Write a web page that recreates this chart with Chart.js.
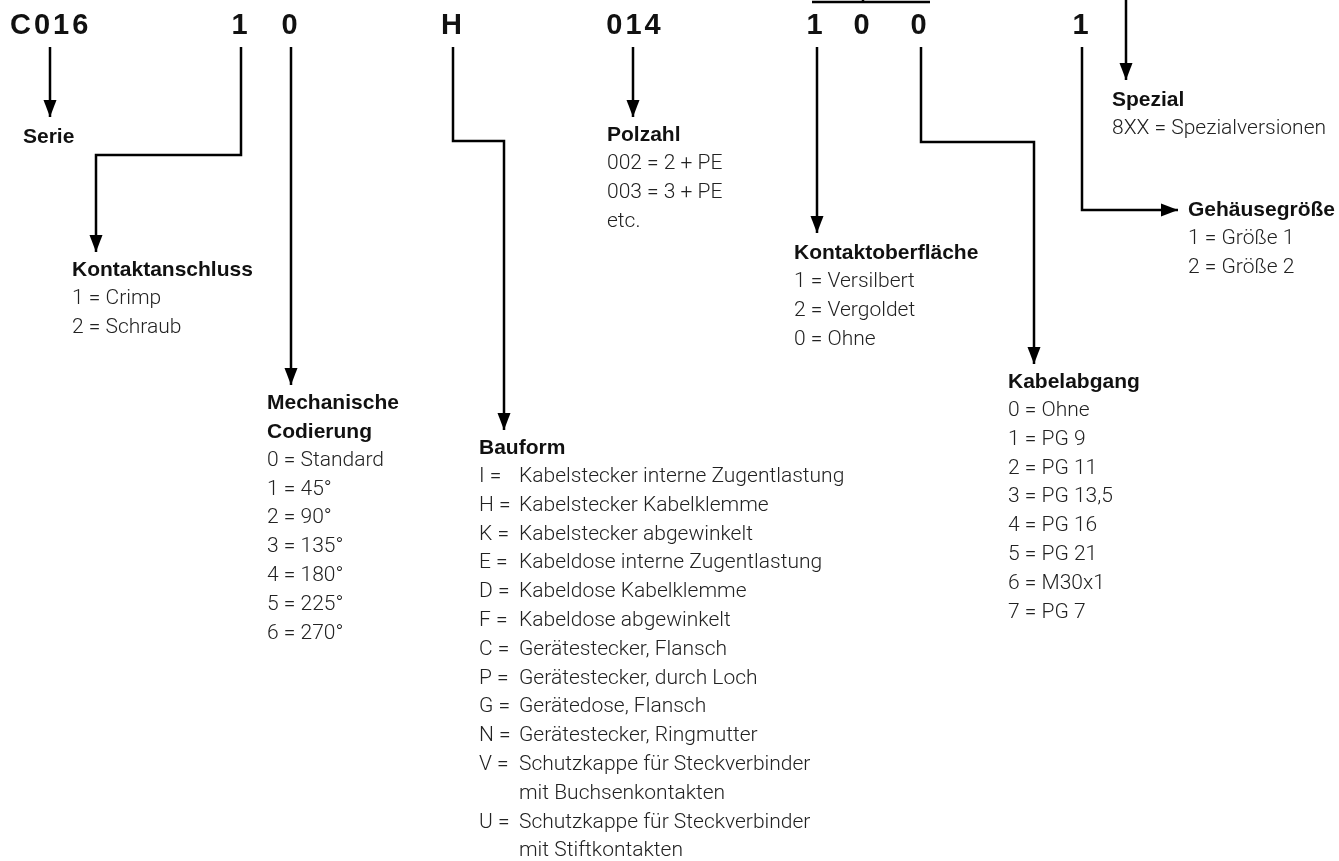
<!DOCTYPE html>
<html>
<head>
<meta charset="utf-8">
<script src="https://cdn.jsdelivr.net/npm/chart.js@4.4.1/dist/chart.umd.min.js"></script>
<style>
  html, body { margin: 0; padding: 0; background: #fff; }
  #chart { display: block; }
</style>
</head>
<body>
<canvas id="chart" width="1339" height="861"></canvas>
<script>
// order code parts, left to right
const codeParts = ['C016', '1', '0', 'H', '014', '1', '0', '0', '1'];

// group titles and their value lists
const titleSerie = ['Serie'];
const titleKontakt = ['Kontaktanschluss'];
const kontaktanschluss = ['1 = Crimp', '2 = Schraub'];
const titleCodierung = ['Mechanische', 'Codierung'];
const codierung = ['0 = Standard', '1 = 45°', '2 = 90°', '3 = 135°', '4 = 180°', '5 = 225°', '6 = 270°'];
const titleBauform = ['Bauform'];
const bauformKeys = ['I', 'H', 'K', 'E', 'D', 'F', 'C', 'P', 'G', 'N', 'V', 'U'];
const bauformTexts = [
  ['Kabelstecker interne Zugentlastung'],
  ['Kabelstecker Kabelklemme'],
  ['Kabelstecker abgewinkelt'],
  ['Kabeldose interne Zugentlastung'],
  ['Kabeldose Kabelklemme'],
  ['Kabeldose abgewinkelt'],
  ['Gerätestecker, Flansch'],
  ['Gerätestecker, durch Loch'],
  ['Gerätedose, Flansch'],
  ['Gerätestecker, Ringmutter'],
  ['Schutzkappe für Steckverbinder', 'mit Buchsenkontakten'],
  ['Schutzkappe für Steckverbinder', 'mit Stiftkontakten']
];
const titlePolzahl = ['Polzahl'];
const polzahl = ['002 = 2 + PE', '003 = 3 + PE', 'etc.'];
const titleOberflaeche = ['Kontaktoberfläche'];
const oberflaeche = ['1 = Versilbert', '2 = Vergoldet', '0 = Ohne'];
const titleKabel = ['Kabelabgang'];
const kabelabgang = ['0 = Ohne', '1 = PG 9', '2 = PG 11', '3 = PG 13,5', '4 = PG 16', '5 = PG 21', '6 = M30x1', '7 = PG 7'];
const titleGehaeuse = ['Gehäusegröße'];
const gehaeuse = ['1 = Größe 1', '2 = Größe 2'];
const titleSpezial = ['Spezial'];
const spezial = ['8XX = Spezialversionen'];

// ---- layout (scale units = page pixels) ----
const codeX = [10, 241, 291, 453, 635, 816, 863, 920, 1082];
const codeAlign = ['left', 'center', 'center', 'center', 'center', 'center', 'center', 'center', 'center'];
const codeY = 26;
const lineH = 28.8;

const blocks = [
  { x: 23, y: 137, title: titleSerie, items: [] },
  { x: 72, y: 270, title: titleKontakt, items: kontaktanschluss },
  { x: 267, y: 403, title: titleCodierung, items: codierung },
  { x: 607, y: 135, title: titlePolzahl, items: polzahl },
  { x: 794, y: 253, title: titleOberflaeche, items: oberflaeche },
  { x: 1008, y: 382, title: titleKabel, items: kabelabgang },
  { x: 1188, y: 210, title: titleGehaeuse, items: gehaeuse },
  { x: 1112, y: 100, title: titleSpezial, items: spezial }
];
const bauformBlock = { x: 479, textX: 519, y: 448 };

// connector paths, the last point carries the arrow head
const connectors = [
  { pts: [[50, 47], [50, 117]], arrow: true },
  { pts: [[241, 47], [241, 155], [96, 155], [96, 252]], arrow: true },
  { pts: [[291, 47], [291, 385]], arrow: true },
  { pts: [[453, 47], [453, 141], [504, 141], [504, 430]], arrow: true },
  { pts: [[633, 47], [633, 117]], arrow: true },
  { pts: [[817, 47], [817, 233]], arrow: true },
  { pts: [[921, 47], [921, 142], [1034, 142], [1034, 364]], arrow: true },
  { pts: [[1082, 47], [1082, 210], [1178, 210]], arrow: true },
  { pts: [[1126, -5], [1126, 80]], arrow: true },
  { pts: [[812, 2], [930, 2]], arrow: false },
  { pts: [[863, -5], [863, 2]], arrow: false }
];

const boldFont = 'bold 21px "Liberation Sans", Arial, sans-serif';
const lightFont = '300 21px Roboto, "Liberation Sans", sans-serif';
const codeFont = 'bold 29px "Liberation Sans", Arial, sans-serif';

const arrowPlugin = {
  id: 'arrows',
  afterDatasetsDraw(chart) {
    const ctx = chart.ctx;
    chart.data.datasets.forEach((ds, i) => {
      if (!ds.arrow) return;
      const pts = chart.getDatasetMeta(i).data;
      const a = pts[pts.length - 2], b = pts[pts.length - 1];
      const ang = Math.atan2(b.y - a.y, b.x - a.x);
      const len = 17, half = 6.5;
      ctx.save();
      ctx.translate(b.x, b.y);
      ctx.rotate(ang);
      ctx.beginPath();
      ctx.moveTo(0, 0);
      ctx.lineTo(-len, -half);
      ctx.lineTo(-len, half);
      ctx.closePath();
      ctx.fillStyle = '#000';
      ctx.fill();
      ctx.restore();
    });
  }
};

const textPlugin = {
  id: 'texts',
  afterDraw(chart) {
    const ctx = chart.ctx;
    const sx = chart.scales.x, sy = chart.scales.y;
    ctx.save();
    ctx.textBaseline = 'middle';
    ctx.fillStyle = '#111';

    ctx.font = codeFont;
    ctx.letterSpacing = '3px';
    codeParts.forEach((c, i) => {
      ctx.textAlign = codeAlign[i];
      ctx.fillText(c, sx.getPixelForValue(codeX[i]), sy.getPixelForValue(codeY));
    });
    ctx.letterSpacing = '0px';
    ctx.textAlign = 'left';

    blocks.forEach(b => {
      let row = 0;
      ctx.font = boldFont;
      ctx.fillStyle = '#111';
      b.title.forEach(t => {
        ctx.fillText(t, sx.getPixelForValue(b.x), sy.getPixelForValue(b.y + row * lineH));
        row++;
      });
      ctx.font = lightFont;
      ctx.fillStyle = '#222';
      b.items.forEach(t => {
        ctx.fillText(t, sx.getPixelForValue(b.x), sy.getPixelForValue(b.y + row * lineH));
        row++;
      });
    });

    // Bauform list with key column
    let row = 0;
    ctx.font = boldFont;
    ctx.fillStyle = '#111';
    titleBauform.forEach(t => {
      ctx.fillText(t, sx.getPixelForValue(bauformBlock.x), sy.getPixelForValue(bauformBlock.y));
      row++;
    });
    ctx.font = lightFont;
    ctx.fillStyle = '#222';
    bauformKeys.forEach((k, i) => {
      const y = bauformBlock.y + row * lineH;
      ctx.fillText(k + ' =', sx.getPixelForValue(bauformBlock.x), sy.getPixelForValue(y));
      bauformTexts[i].forEach(t => {
        ctx.fillText(t, sx.getPixelForValue(bauformBlock.textX), sy.getPixelForValue(bauformBlock.y + row * lineH));
        row++;
      });
    });
    ctx.restore();
  }
};

new Chart(document.getElementById('chart').getContext('2d'), {
  type: 'scatter',
  data: {
    datasets: connectors.map(c => ({
      data: c.pts.map(p => ({ x: p[0], y: p[1] })),
      showLine: true,
      borderColor: '#000',
      borderWidth: 2.5,
      pointRadius: 0,
      fill: false,
      tension: 0,
      arrow: c.arrow
    }))
  },
  options: {
    responsive: false,
    animation: false,
    events: [],
    layout: { padding: 0 },
    scales: {
      x: { type: 'linear', min: 0, max: 1339, display: false },
      y: { type: 'linear', min: 0, max: 861, reverse: true, display: false }
    },
    plugins: { legend: { display: false }, tooltip: { enabled: false } }
  },
  plugins: [arrowPlugin, textPlugin]
});
</script>
</body>
</html>
